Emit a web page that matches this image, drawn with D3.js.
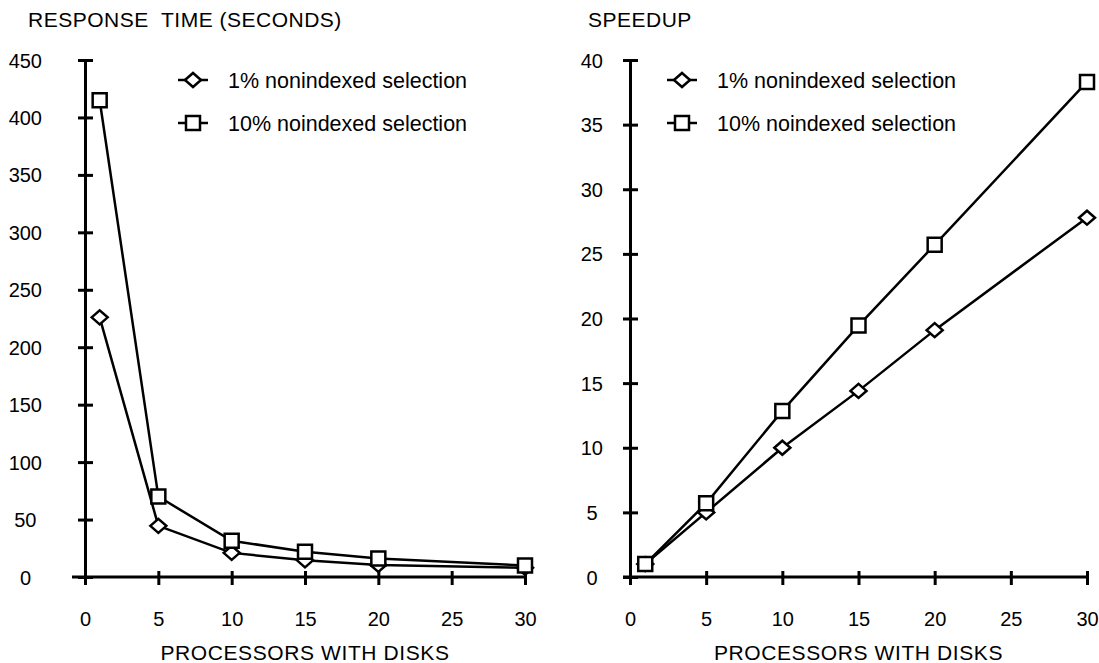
<!DOCTYPE html>
<html>
<head>
<meta charset="utf-8">
<title>Response time and speedup</title>
<script src="https://d3js.org/d3.v7.min.js"></script>
<style>
  body { margin: 0; background: #fff; }
  svg text { font-family: "Liberation Sans", Arial, sans-serif; fill: #000; }
</style>
</head>
<body>
<svg width="1099" height="663"></svg>
<script>
// data
const processors = [1, 5, 10, 15, 20, 30];
const responseOnePct = [226, 44.5, 21, 14.5, 10.5, 8];
const responseTenPct = [415, 70, 31.5, 22, 16, 10];
const speedupOnePct = [1, 5, 10, 14.4, 19.1, 27.8];
const speedupTenPct = [1, 5.7, 12.85, 19.45, 25.7, 38.3];
const xTicks = [0, 5, 10, 15, 20, 25, 30];
const responseTicks = [0, 50, 100, 150, 200, 250, 300, 350, 400, 450];
const speedupTicks = [0, 5, 10, 15, 20, 25, 30, 35, 40];
const seriesNames = ["1% nonindexed selection", "10% noindexed selection"];
const xTitle = "PROCESSORS WITH DISKS";

const svg = d3.select('svg');

const diamond = 'M-8,0L0,-7L8,0L0,7Z';
const square = 'M-7,-7H7V7H-7Z';

function drawPanel(p) {
  const x = d3.scaleLinear().domain([0, 30]).range([p.left, p.right]);
  const y = d3.scaleLinear().domain([0, d3.max(p.yTicks)]).range([577, 60]);
  const g = svg.append('g');

  // title
  g.append('text')
    .attr('x', p.titleX).attr('y', 27)
    .style('font-size', '21px')
    .style('letter-spacing', '0.5px')
    .style('white-space', 'pre')
    .text(p.title);

  // y axis
  const yAxis = g.append('g')
    .attr('transform', `translate(${p.left},0)`)
    .call(d3.axisLeft(y).tickValues(p.yTicks).tickSize(7).tickSizeOuter(0));
  yAxis.select('.domain').attr('stroke-width', 3);
  yAxis.selectAll('.tick line').attr('x1', 8).attr('stroke-width', 3);
  const maxLen = d3.max(p.yTicks, d => String(d).length);
  yAxis.selectAll('.tick text')
    .attr('x', d => -p.labelGap - (maxLen - String(d).length) * 5.5)
    .attr('dy', '0.35em')
    .style('font-size', '20px');

  // x axis
  const xAxis = g.append('g')
    .attr('transform', 'translate(0,577)')
    .call(d3.axisBottom(x).tickValues(xTicks).tickSize(8).tickSizeOuter(0));
  xAxis.select('.domain')
    .attr('d', `M${p.left - p.xOver},0H${p.right}`)
    .attr('stroke-width', 3);
  xAxis.selectAll('.tick line').attr('y1', -6).attr('stroke-width', 3);
  xAxis.selectAll('.tick text')
    .attr('y', 49).attr('dy', 0)
    .style('font-size', '20px');

  g.append('text')
    .attr('x', (p.left + p.right) / 2).attr('y', 660)
    .attr('text-anchor', 'middle')
    .style('font-size', '21px')
    .style('letter-spacing', '0.6px')
    .text(xTitle);

  // series
  const line = d3.line().x(d => x(d[0])).y(d => y(d[1]));
  p.series.forEach((vals, i) => {
    const pts = processors.map((v, j) => [v, vals[j]]);
    g.append('path')
      .datum(pts)
      .attr('d', line)
      .attr('fill', 'none')
      .attr('stroke', '#000')
      .attr('stroke-width', 2.5);
    g.selectAll(null)
      .data(pts)
      .enter()
      .append('path')
      .attr('d', i === 0 ? diamond : square)
      .attr('transform', d => `translate(${x(d[0])},${y(d[1])})`)
      .attr('fill', '#fff')
      .attr('stroke', '#000')
      .attr('stroke-width', 2.5);
  });

  // legend
  seriesNames.forEach((name, i) => {
    const ly = 80 + i * 43;
    const lg = g.append('g').attr('transform', `translate(${p.legendX},${ly})`);
    lg.append('line')
      .attr('x1', -15).attr('x2', 15)
      .attr('stroke', '#000').attr('stroke-width', 2.5);
    lg.append('path')
      .attr('d', i === 0 ? diamond : square)
      .attr('fill', '#fff').attr('stroke', '#000').attr('stroke-width', 2.5);
    lg.append('text')
      .attr('x', 35).attr('dy', '0.35em')
      .style('font-size', '21.5px')
      .text(name);
  });
}

drawPanel({
  title: 'RESPONSE  TIME (SECONDS)', titleX: 28,
  left: 85, right: 525, xOver: 13, labelGap: 43,
  yTicks: responseTicks, series: [responseOnePct, responseTenPct],
  legendX: 193
});

drawPanel({
  title: 'SPEEDUP', titleX: 588,
  left: 630, right: 1087, xOver: 7, labelGap: 27,
  yTicks: speedupTicks, series: [speedupOnePct, speedupTenPct],
  legendX: 682
});
</script>
</body>
</html>
